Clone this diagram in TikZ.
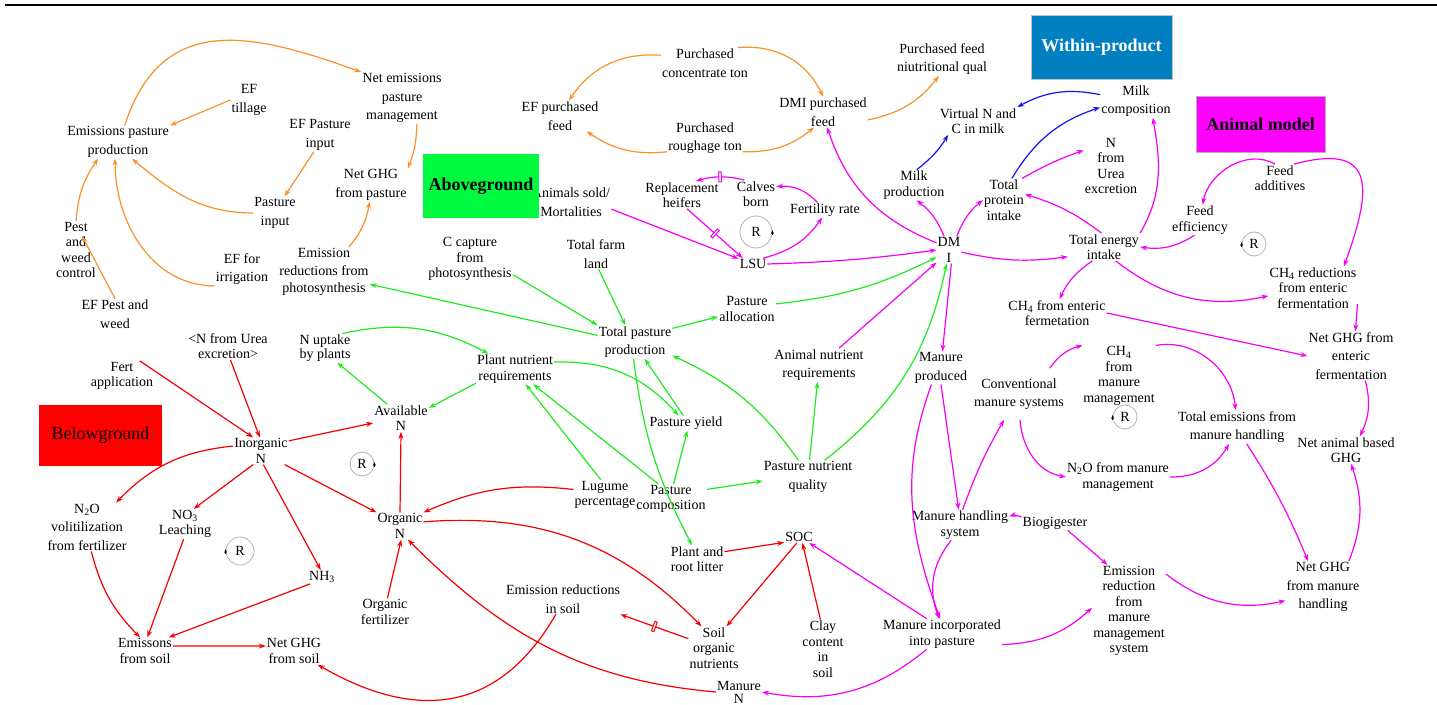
\documentclass[tikz,border=0pt]{standalone}
\usepackage{fontspec}
\setmainfont{Liberation Serif}
\usetikzlibrary{arrows.meta}
\definecolor{corange}{RGB}{250,145,40}
\definecolor{cgreen}{RGB}{30,235,30}
\definecolor{cmag}{RGB}{245,0,245}
\definecolor{cred}{RGB}{245,0,0}
\definecolor{cblue}{RGB}{20,20,235}
\definecolor{boxgreen}{RGB}{0,250,64}
\definecolor{boxblue}{RGB}{0,128,192}
\definecolor{boxmag}{RGB}{255,0,255}
\definecolor{boxred}{RGB}{255,0,0}
\newcommand\vfont{\fontsize{14}{18.5}\selectfont}
\newcommand\vtight{\fontsize{14}{15.5}\selectfont}
\newcommand\hfont{\fontsize{18}{20}\selectfont}
\begin{document}
\begin{tikzpicture}[x=1pt,y=1pt,
  vn/.style={align=center,inner sep=1pt,font=\vfont,text=black},
  vnt/.style={vn,font=\vtight},
  lk/.style={line width=1.2pt,-{Stealth[length=7pt,width=5pt]}},
  oa/.style={lk,corange},
  ba/.style={lk,cblue},
  ma/.style={lk,cmag},
  ga/.style={lk,cgreen},
  ra/.style={lk,cred},
  dmark/.style={draw,fill=white,minimum width=2.5pt,minimum height=10pt,inner sep=0pt,line width=1pt},
  rloop/.style={circle,draw=gray!60,line width=0.8pt,inner sep=0pt,font=\vfont,text=black},
  rtip/.style={black,line width=0.6pt,-{Stealth[length=4pt,width=3pt]}},
  hdr/.style={inner sep=0pt,font=\hfont}
]
\useasboundingbox (0,0) rectangle (1437,704);
\draw[line width=1.5pt] (5,699) -- (1437,699);

% ---------- nodes ----------
\node[vn] (EPP) at (118,562) {Emissions pasture\\production};
\node[vn] (EFt) at (249,604) {EF\\tillage};
\node[vn] (NEPM) at (402,606) {Net emissions\\pasture\\management};
\node[vn] (EFPI) at (320,569) {EF Pasture\\input};
\node[vn] (NGP) at (371,519) {Net GHG\\from pasture};
\node[vn] (PI) at (275,491) {Pasture\\input};
\node[vnt] (Pest) at (76,454) {Pest\\and\\weed\\control};
\node[vn] (EFPW) at (115,390) {EF Pest and\\weed};
\node[vn] (EFI) at (242,435) {EF for\\irrigation};
\node[vn,font=\fontsize{14}{17.5}\selectfont] (ERP) at (324,432) {Emission\\reductions from\\photosynthesis};
\node[vn] (PCT) at (705,641) {Purchased\\concentrate ton};
\node[vn] (EFPF) at (560,588) {EF purchased\\feed};
\node[vn] (PRT) at (705,566) {Purchased\\roughage ton};
\node[vn] (DMIPF) at (823,592) {DMI purchased\\feed};
\node[vn] (PFNQ) at (942,645) {Purchased feed\\niutritional qual};
\node[vnt] (VNC) at (978,583) {Virtual N and\\C in milk};
\node[vn] (MC) at (1136,603) {Milk\\composition};
\node[vnt] (MP) at (914,519) {Milk\\production};
\node[vnt] (TPI) at (1004,504) {Total\\protein\\intake};
\node[vnt] (NUE) at (1111,538) {N\\from\\Urea\\excretion};
\node[vnt] (FA) at (1280,526) {Feed\\additives};
\node[vnt] (FE) at (1200,484) {Feed\\efficiency};
\node[vnt] (TEI) at (1104,457) {Total energy\\intake};
\node[vnt] (CH4RE) at (1313,416) {CH\textsubscript{4} reductions\\from enteric\\fermentation};
\node[vnt] (CH4EF) at (1057,391) {CH\textsubscript{4} from enteric\\fermetation};
\node[vn] (NGEF) at (1351,348) {Net GHG from\\enteric\\fermentation};
\node[vnt] (DMI) at (949,454) {DM\\I};
\node[vn,inner ysep=10pt] (CMS) at (1019,310) {Conventional\\manure systems};
\node[vnt] (CH4MM) at (1119,328) {CH\textsubscript{4}\\from\\manure\\management};
\node[vn] (MPr) at (941,336) {Manure\\produced};
\node[vn] (TEMH) at (1237,277) {Total emissions from\\manure handling};
\node[vnt] (NABG) at (1346,254) {Net animal based\\GHG};
\node[vnt] (N2OMM) at (1118,227) {N\textsubscript{2}O from manure\\management};
\node[vnt] (MHS) at (960,179) {Manure handling\\system};
\node[vn] (BIO) at (1055,181) {Biogigester};
\node[vnt] (ERMM) at (1129,93) {Emission\\reduction\\from\\manure\\management\\system};
\node[vn] (NGMH) at (1323,117) {Net GHG\\from manure\\handling};
\node[vnt] (MIP) at (942,70) {Manure incorporated\\into pasture};
\node[vnt] (CCP) at (470,445) {C capture\\from\\photosynthesis};
\node[vn] (TFL) at (596,450) {Total farm\\land};
\node[vn] (TPP) at (635,362) {Total pasture\\production};
\node[vnt] (PA) at (747,395) {Pasture\\allocation};
\node[vnt] (PNR) at (515,335) {Plant nutrient\\requirements};
\node[vn,font=\fontsize{14}{14}\selectfont] (NUP) at (325,356) {N uptake\\by plants};
\node[vnt] (AvN) at (401,286) {Available\\N};
\node[vn] (ANR) at (819,339) {Animal nutrient\\requirements};
\node[vn] (PY) at (686,281) {Pasture yield};
\node[vn] (PNQ) at (808,227) {Pasture nutrient\\quality};
\node[vnt] (LP) at (605,209) {Lugume\\percentage};
\node[vnt] (PC) at (671,205) {Pasture\\composition};
\node[vnt] (PRL) at (697,145) {Plant and\\root litter};
\node[vn] (SOC) at (799,167) {SOC};
\node[vnt] (SON) at (714,56) {Soil\\organic\\nutrients};
\node[vnt] (CCS) at (823,55) {Clay\\content\\in\\soil};
\node[vn] (ERS) at (563,105) {Emission reductions\\in soil};
\node[vn,font=\fontsize{14}{13}\selectfont] (MN) at (739,12) {Manure\\N};
\node[vn] (ASM) at (571,502) {Animals sold/\\Mortalities};
\node[vnt] (RH) at (682,509) {Replacement\\heifers};
\node[vnt] (CB) at (756,510) {Calves\\born};
\node[vn] (FR) at (825,494) {Fertility rate};
\node[vn] (LSU) at (753,440) {LSU};
\node[vnt] (NFUE) at (228,358) {<N from Urea\\excretion>};
\node[vnt] (FA2) at (122,328) {Fert\\application};
\node[vnt] (IN) at (261,253) {Inorganic\\N};
\node[vnt] (ON) at (400,178) {Organic\\N};
\node[vn] (N2OVF) at (87,177) {N\textsubscript{2}O\\volitilization\\from fertilizer};
\node[vnt] (NO3) at (185,180) {NO\textsubscript{3}\\Leaching};
\node[vn] (NH3) at (322,127) {NH\textsubscript{3}};
\node[vnt] (OF) at (385,92) {Organic\\fertilizer};
\node[vnt] (EFS) at (145,53) {Emissons\\from soil};
\node[vnt] (NGS) at (294,53) {Net GHG\\from soil};

% ---------- loop markers ----------
\node[rloop,minimum size=32pt] (R1) at (756,472) {R};
\draw[rtip] ([yshift=-3pt]R1.east) -- ([yshift=2pt]R1.east);
\node[rloop,minimum size=24pt] (R2) at (362,240) {R};
\draw[rtip] ([yshift=-3pt]R2.east) -- ([yshift=2pt]R2.east);
\node[rloop,minimum size=28pt] (R3) at (240,153) {R};
\draw[rtip] ([yshift=-3pt]R3.west) -- ([yshift=2pt]R3.west);
\node[rloop,minimum size=24pt] (R4) at (1125,287) {R};
\draw[rtip] ([yshift=-3pt]R4.west) -- ([yshift=2pt]R4.west);
\node[rloop,minimum size=24pt] (R5) at (1254,460) {R};
\draw[rtip] ([yshift=-3pt]R5.west) -- ([yshift=2pt]R5.west);

% ---------- orange ----------
\draw[oa] (EPP.68) to[out=72,in=160,looseness=1.25] (NEPM.north west);
\draw[oa] (EFt.west) -- (EPP.north east);
\draw[oa] (NEPM.-60) to[bend left=10] (NGP.north east);
\draw[oa] (EFPI.-110) -- (PI.60);
\draw[oa] (PI.west) to[out=180,in=-40] (EPP.-50);
\draw[oa] (Pest.north) to[bend left=15] (EPP.-140);
\draw[oa] (EFI.south west) to[out=180,in=-90] (EPP.-100);
\draw[oa] (EFPW.north) -- ([shift={(6,14)}]Pest.center);
\draw[oa] (ERP.45) to[bend right=15] (NGP.-95);
\draw[oa] (PCT.170) to[bend right=30] (EFPF.60);
\draw[oa] (PCT.25) to[bend left=35] (DMIPF.90);
\draw[oa] (PRT.200) to[bend left=20] (EFPF.-30);
\draw[oa] (PRT.-20) to[bend right=20] (DMIPF.-120);
\draw[oa] (DMIPF.-10) to[bend right=20] (PFNQ.-100);

% ---------- blue ----------
\draw[ba] (MC.170) to[bend right=20] (VNC.north east);
\draw[ba] (TPI.70) to[bend left=20] (MC.190);
\draw[ba] (MP.80) to[bend right=10] (VNC.-155);

% ---------- magenta ----------
\draw[ma] (DMI.150) to[bend left=25] (DMIPF.-75);
\draw[ma] (DMI.110) to[bend right=15] (MP.-80);
\draw[ma] (DMI.60) to[bend left=15] (TPI.180);
\draw[ma] (TPI.50) to[bend left=5] (NUE.150);
\draw[ma] (TEI.100) to[bend right=10] (TPI.15);
\draw[ma] (TEI.north east) to[out=60,in=-80] (MC.-45);
\draw[ma] (DMI.-10) to[bend right=10] (TEI.195);
\draw[ma] (FA.110) to[out=150,in=80] (FE.80);
\draw[ma] (FA.45) to[out=15,in=70,looseness=1.9] (CH4RE.35);
\draw[ma] (FE.-110) to[bend left=20] (TEI.east);
\draw[ma] (TEI.-130) to[bend right=15] (CH4EF.80);
\draw[ma] (TEI.-50) to[bend right=25] (CH4RE.190);
\draw[ma] (CH4RE.-20) -- (NGEF.80);
\draw[ma] (CH4EF.east) -- (NGEF.west);
\draw[ma] (NGEF.-60) to[bend left=20] (NABG.45);
\draw[ma] (CMS.40) to[bend left=20] (CH4MM.140);
\draw[ma] (CH4MM.north east) to[out=10,in=95] (TEMH.95);
\draw[ma] (CMS.-88) to[out=-85,in=170] (N2OMM.west);
\draw[ma] (N2OMM.east) to[bend right=30] (TEMH.-115);
\draw[ma] (TEMH.-60) to[bend left=5] (NGMH.120);
\draw[ma] (NGMH.45) to[bend right=20] (NABG.-70);
\draw[ma] (DMI.-80) -- (MPr.85);
\draw[ma] (MPr.-90) -- (MHS.95);
\draw[ma] (MPr.-120) to[out=-110,in=110] (MIP.97);
\draw[ma] (MHS.80) to[bend left=5] (CMS.-120);
\draw[ma] (BIO.170) to[bend right=20] (MHS.10);
\draw[ma] (BIO.-30) -- (ERMM.115);
\draw[ma] (MHS.-120) to[bend right=30] (MIP.100);
\draw[ma] (MIP.-10) to[bend right=20] (ERMM.175);
\draw[ma] (ERMM.45) to[bend right=25] (NGMH.200);
\draw[ma] (MIP.135) -- (SOC.-30);
\draw[ma] (MIP.-135) to[bend left=25] (MN.east);
\draw[ma] (LSU.east) to[bend right=3] (DMI.west);
\draw[ma] (LSU.30) to[bend right=20] (FR.-110);
\draw[ma] (FR.135) to[bend right=25] (CB.20);
\draw[ma] (CB.130) to[bend right=15] node[dmark,sloped]{} (RH.45);
\draw[ma] (RH.-70) -- node[dmark,sloped]{} (LSU.150);
\draw[ma] (ASM.-10) -- (LSU.160);
\draw[ma] (ANR.40) -- (DMI.-135);

% ---------- green ----------
\draw[ga] (CCP.-20) -- (TPP.north west);
\draw[ga] (TFL.-80) -- (TPP.120);
\draw[ga] (TPP.170) -- (ERP.-15);
\draw[ga] (TPP.20) -- (PA.195);
\draw[ga] (PA.10) to[bend right=10] (DMI.-150);
\draw[ga] (PNQ.45) to[bend right=20] (DMI.-100);
\draw[ga] (PNQ.85) -- (ANR.-95);
\draw[ga] (PNQ.120) to[bend right=15] (TPP.-20);
\draw[ga] (PNR.10) to[bend left=25] (PY.135);
\draw[ga] (PY.110) -- (TPP.-60);
\draw[ga] (TPP.-95) to[bend right=10] (PRL.110);
\draw[ga] (PC.80) -- (PY.-80);
\draw[ga] (PC.15) -- (PNQ.185);
\draw[ga] (LP.105) -- (PNR.-55);
\draw[ga] (PC.130) -- (PNR.-40);
\draw[ga] (NUP.40) to[bend left=20] (PNR.150);
\draw[ga] (AvN.135) -- (NUP.-50);
\draw[ga] (PNR.-160) -- (AvN.20);

% ---------- red ----------
\draw[ra] (NFUE.-80) -- (IN.95);
\draw[ra] (FA2.40) -- (IN.120);
\draw[ra] (IN.20) -- (AvN.190);
\draw[ra] (ON.north) -- (AvN.south);
\draw[ra] (IN.170) to[bend right=20] (N2OVF.40);
\draw[ra] (IN.-120) -- (NO3.60);
\draw[ra] (IN.-80) -- (NH3.100);
\draw[ra] (IN.-30) -- (ON.150);
\draw[ra] (LP.170) to[bend right=15] (ON.30);
\draw[ra] (ON.10) to[bend left=25] (SON.120);
\draw[ra] (OF.80) -- (ON.-85);
\draw[ra] (MN.west) to[out=175,in=-45] (ON.-60);
\draw[ra] (ERS.-115) to[out=-120,in=-30,looseness=1.2] (NGS.-30);
\draw[ra] (N2OVF.-80) to[bend right=15] (EFS.110);
\draw[ra] (NO3.-95) -- (EFS.80);
\draw[ra] (NH3.-150) -- (EFS.30);
\draw[ra] (EFS.10) -- (NGS.170);
\draw[ra] (PRL.15) -- (SOC.200);
\draw[ra] (SOC.-110) -- (SON.60);
\draw[ra] (CCS.95) -- (SOC.-60);
\draw[ra] (SON.160) -- node[dmark,sloped]{} (ERS.-15);

% ---------- headers ----------
\node[hdr,fill=boxgreen,minimum width=116pt,minimum height=64pt,font=\hfont\bfseries] (hAbove) at (481,518) {Aboveground};
\node[hdr,fill=boxblue,draw=gray!50,minimum width=141pt,minimum height=64pt,text=white,font=\hfont\bfseries] (hWithin) at (1101.5,657) {Within-product};
\node[hdr,fill=boxmag,draw=gray!60,minimum width=129pt,minimum height=56pt,font=\hfont\bfseries] (hAnimal) at (1260.5,580) {Animal model};
\node[hdr,fill=boxred,minimum width=123pt,minimum height=61pt] (hBelow) at (100.5,268.5) {Belowground};
\end{tikzpicture}
\end{document}
